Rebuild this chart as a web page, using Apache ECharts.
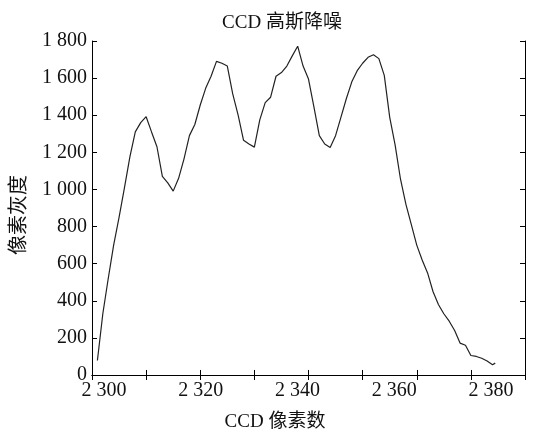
<!DOCTYPE html>
<html>
<head>
<meta charset="utf-8">
<script src="https://cdn.jsdelivr.net/npm/echarts@6/dist/echarts.min.js"></script>
<style>html,body{margin:0;padding:0;background:#fff}#c{width:543px;height:437px}</style>
</head>
<body>
<div id="c"></div>
<script>
// CCD pixel index (x) and gray value after Gaussian denoising (y)
const pixelIndex = [2301,2302,2303,2304,2305,2306,2307,2308,2309,2310,
  2311,2312,2313,2314,2315,2316,2317,2318,2319,2320,
  2321,2322,2323,2324,2325,2326,2327,2328,2329,2330,
  2331,2332,2333,2334,2335,2336,2337,2338,2339,2340,
  2341,2342,2343,2344,2345,2346,2347,2348,2349,2350,
  2351,2352,2353,2354,2355,2356,2357,2358,2359,2360,
  2361,2362,2363,2364,2365,2366,2367,2368,2369,2370,
  2371,2372,2373,2374,2374.5];
const grayValue = [78,330,520,700,850,1010,1175,1310,1360,1392,
  1310,1230,1070,1035,991,1060,1165,1290,1350,1455,
  1545,1610,1690,1680,1665,1515,1400,1265,1245,1228,
  1375,1468,1497,1610,1630,1665,1720,1772,1665,1595,
  1445,1290,1245,1226,1290,1390,1490,1580,1640,1680,
  1712,1726,1705,1615,1390,1240,1055,920,810,700,
  620,550,450,380,330,290,240,172,160,105,
  100,90,75,55,64];
const xTickLabels = [2300,2320,2340,2360,2380];
const yTickLabels = [0,200,400,600,800,1000,1200,1400,1600,1800];

const titleText = 'CCD 高斯降噪';
const xName = 'CCD 像素数';
const yName = '像素灰度';

const FONT = '"Liberation Serif","Noto Sans CJK SC",serif';
const fmt = v => { const s = String(Math.round(v)); return s.length > 3 ? s.slice(0, s.length-3) + ' ' + s.slice(-3) : s; };

const chart = echarts.init(document.getElementById('c'), null, {renderer:'canvas'});
const tickStyle = {show:true, inside:true, length:5, lineStyle:{color:'#000', width:1}};
const lineStyleAx = {show:true, lineStyle:{color:'#000', width:1}};
chart.setOption({
  animation:false,
  backgroundColor:'#fff',
  title:{text:titleText, left:277, top:9, textAlign:'center',
    textStyle:{fontFamily:FONT, fontSize:19, fontWeight:'normal', color:'#111'}},
  grid:{left:92, right:18, top:41, bottom:55.5, containLabel:false},
  xAxis:[
    {type:'value', min:2300, max:2380, interval:10, position:'bottom',
      axisLine:lineStyleAx, axisTick:tickStyle, axisLabel:{show:false}, splitLine:{show:false}},
    {type:'value', min:2300, max:2380, interval:10, position:'top',
      axisLine:lineStyleAx, axisTick:tickStyle, axisLabel:{show:false}, splitLine:{show:false}},
    {type:'value', min:2297.52, max:2387.03, position:'bottom',
      axisLine:{show:false}, axisTick:{show:false}, splitLine:{show:false},
      axisLabel:{customValues:xTickLabels, formatter:fmt, margin:6,
        fontFamily:FONT, fontSize:20, color:'#111'},
      name:xName, nameLocation:'middle', nameGap:38,
      nameTextStyle:{fontFamily:FONT, fontSize:19, color:'#111', padding:[0,67,0,0]}}
  ],
  yAxis:[
    {type:'value', min:0, max:1800, interval:200, position:'left',
      axisLine:lineStyleAx, axisTick:tickStyle, splitLine:{show:false},
      axisLabel:{formatter:fmt, margin:5, fontFamily:FONT, fontSize:20, color:'#111'},
      name:yName, nameLocation:'middle', nameGap:62, nameRotate:90,
      nameTextStyle:{fontFamily:FONT, fontSize:20, color:'#111', padding:[0,14,0,0]}},
    {type:'value', min:0, max:1800, interval:200, position:'right',
      axisLine:lineStyleAx, axisTick:tickStyle, axisLabel:{show:false}, splitLine:{show:false}}
  ],
  series:[{
    type:'line', xAxisIndex:0, yAxisIndex:0, showSymbol:false,
    data: pixelIndex.map((p,i)=>[p, grayValue[i]]),
    lineStyle:{color:'#222', width:1.2}, itemStyle:{color:'#222'}
  }]
});
</script>
</body>
</html>
